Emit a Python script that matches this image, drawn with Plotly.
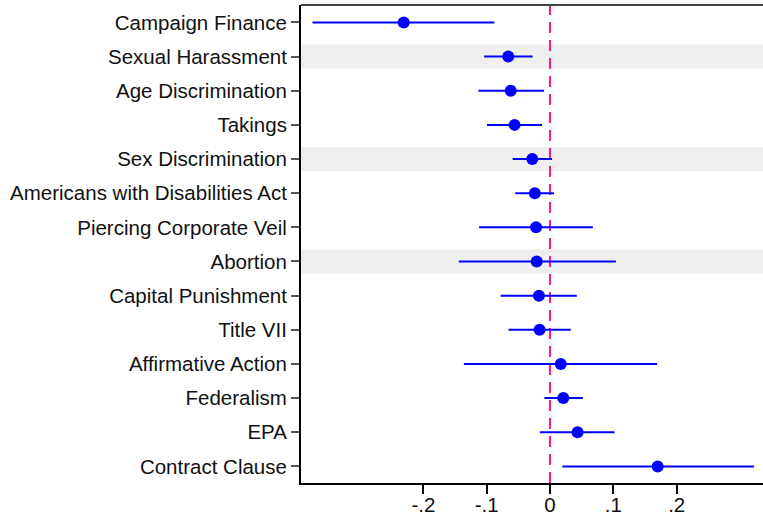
import plotly.graph_objects as go

labels = ["Campaign Finance", "Sexual Harassment", "Age Discrimination", "Takings",
          "Sex Discrimination", "Americans with Disabilities Act", "Piercing Corporate Veil",
          "Abortion", "Capital Punishment", "Title VII", "Affirmative Action", "Federalism",
          "EPA", "Contract Clause"]
estimate = [-0.231, -0.066, -0.062, -0.056, -0.028, -0.024, -0.022, -0.021, -0.0175,
            -0.0165, 0.017, 0.021, 0.0435, 0.170]
ci_low = [-0.375, -0.104, -0.113, -0.0995, -0.059, -0.055, -0.112, -0.144, -0.078,
          -0.0655, -0.136, -0.009, -0.016, 0.0195]
ci_high = [-0.088, -0.0275, -0.0095, -0.0127, 0.0032, 0.0063, 0.0677, 0.104, 0.0423,
           0.0328, 0.169, 0.052, 0.102, 0.322]
shaded_rows = ["Sexual Harassment", "Sex Discrimination", "Abortion"]
x_tickvals = [-0.2, -0.1, 0, 0.1, 0.2]
x_ticktext = ["-.2", "-.1", "0", ".1", ".2"]

ypos = list(range(len(labels)))
BLUE = "#0000ff"
FONT = "Liberation Sans, Arial, sans-serif"

fig = go.Figure()
fig.add_trace(go.Scatter(
    x=estimate, y=ypos, mode="markers",
    marker=dict(color=BLUE, size=12, line=dict(width=0)),
    error_x=dict(type="data", symmetric=False,
                 array=[h - e for h, e in zip(ci_high, estimate)],
                 arrayminus=[e - l for e, l in zip(estimate, ci_low)],
                 color=BLUE, thickness=2, width=0),
    showlegend=False, hoverinfo="skip"))

shapes = []
for lab in shaded_rows:
    i = labels.index(lab)
    shapes.append(dict(type="rect", xref="paper", yref="y", x0=0, x1=1,
                       y0=i - 0.35, y1=i + 0.35, fillcolor="#efefef",
                       line=dict(width=0), layer="below"))
shapes.append(dict(type="line", xref="x", yref="paper", x0=0, x1=0, y0=0, y1=1,
                   line=dict(color="#ff1493", width=2, dash="11px,7px"), layer="below"))
shapes.append(dict(type="line", xref="paper", yref="paper", x0=0, x1=1, y0=1, y1=1,
                   line=dict(color="#444444", width=2), layer="above"))

fig.update_layout(
    width=763, height=515,
    margin=dict(l=301, r=0, t=5, b=32, autoexpand=False),
    paper_bgcolor="white", plot_bgcolor="white",
    font=dict(family=FONT, size=20.5, color="#111111"),
    shapes=shapes,
    xaxis=dict(range=[-0.3932, 0.3363], tickvals=x_tickvals, ticktext=x_ticktext,
               showgrid=False, zeroline=False, showline=True, linecolor="black",
               linewidth=2, ticks="outside", ticklen=9, tickwidth=2, tickcolor="black",
               ticklabelstandoff=-7,
               tickfont=dict(family=FONT, size=20.5, color="#111111")),
    yaxis=dict(range=[13.486, -0.51], tickvals=ypos, ticktext=labels,
               showgrid=False, zeroline=False, showline=True, linecolor="black",
               linewidth=2, ticks="outside", ticklen=8, tickwidth=1.5, tickcolor="#555555",
               ticklabelstandoff=0,
               tickfont=dict(family=FONT, size=20.5, color="#111111")),
)

fig.write_html("out.html", config={"displayModeBar": False},
               post_script="document.body.style.margin='0';document.body.style.overflow='hidden';")
